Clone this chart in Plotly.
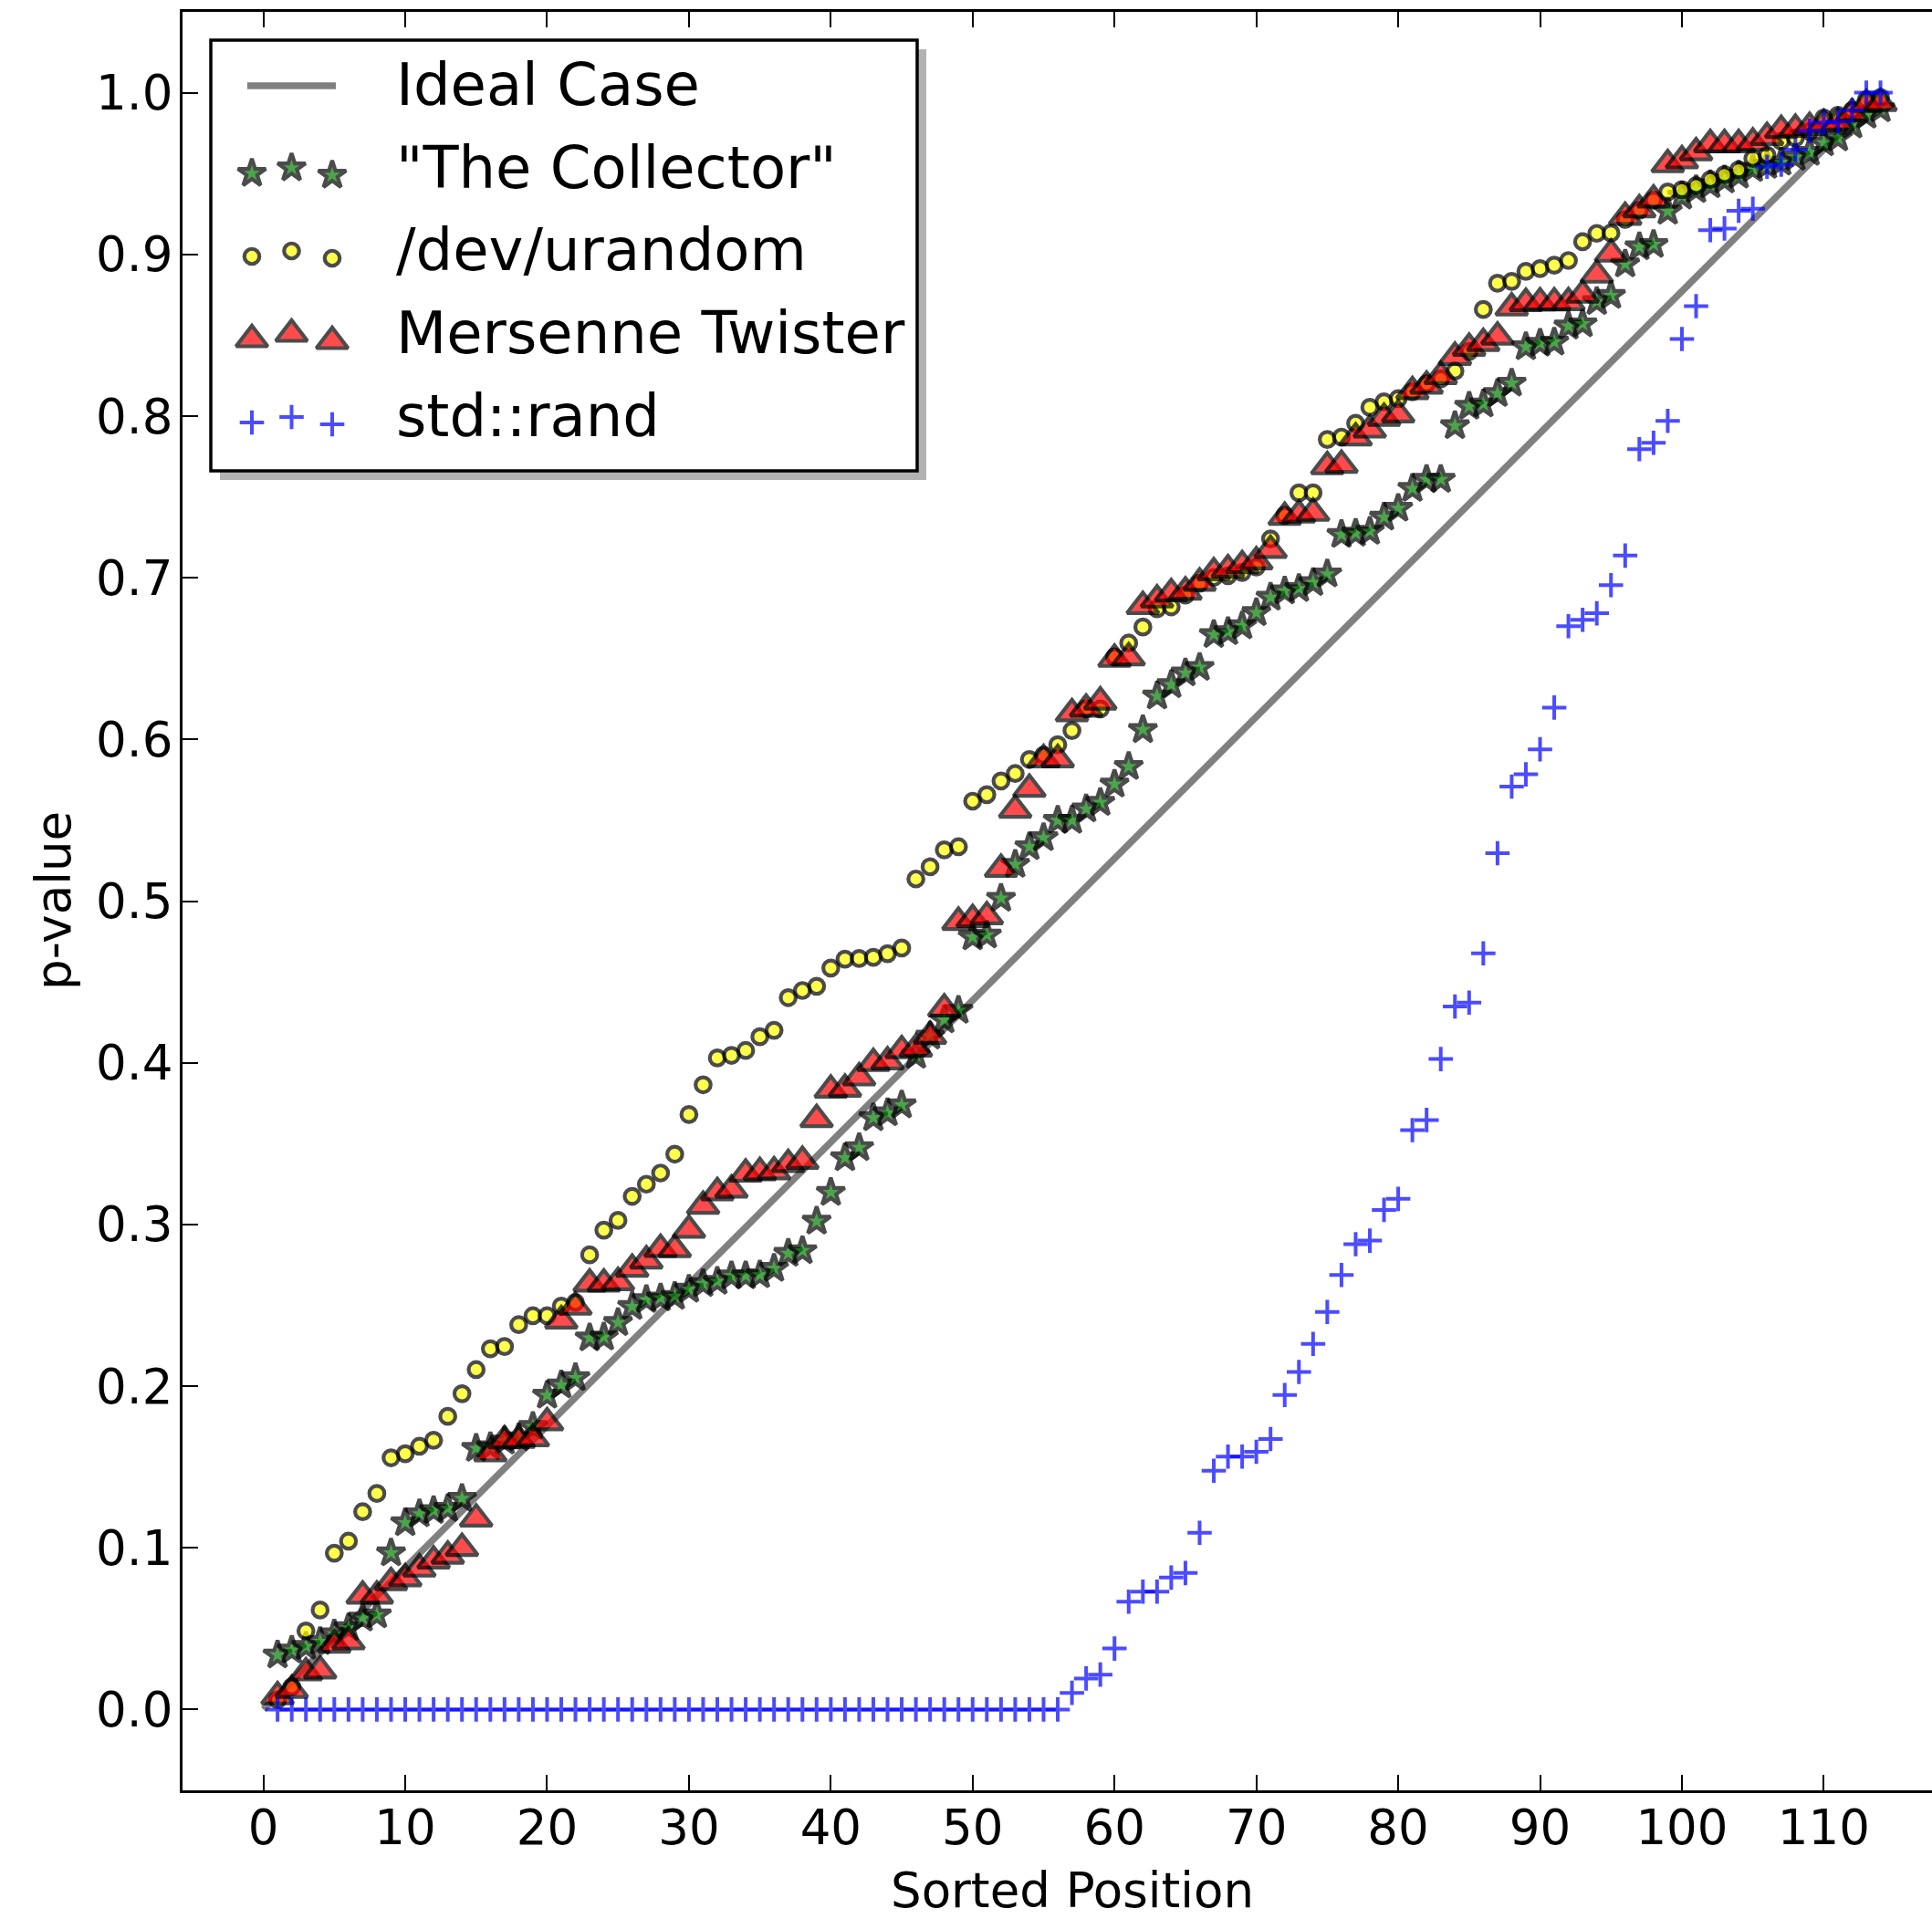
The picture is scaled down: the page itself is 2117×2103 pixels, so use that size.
import plotly.graph_objects as go

# ---------------- data ----------------
POSITIONS = list(range(1, 115))

COLLECTOR = [
    0.0337, 0.0367, 0.039, 0.042, 0.0467, 0.0505, 0.0565, 0.0585, 0.0968, 0.1155,
    0.121, 0.123, 0.1243, 0.1305, 0.1615, 0.1625, 0.166, 0.168, 0.175, 0.1943,
    0.2007, 0.2052, 0.2298, 0.2303, 0.2393, 0.2492, 0.2535, 0.2545, 0.2555, 0.2599,
    0.2634, 0.2648, 0.2682, 0.2682, 0.2688, 0.2728, 0.2821, 0.2837, 0.302, 0.3198,
    0.3412, 0.3475, 0.366, 0.369, 0.3739, 0.4046, 0.4165, 0.4265, 0.4324, 0.4778,
    0.479, 0.5017, 0.5227, 0.5336, 0.5392, 0.5499, 0.5499, 0.557, 0.561, 0.5723,
    0.5832, 0.606, 0.6268, 0.6338, 0.6411, 0.6445, 0.6648, 0.6666, 0.6702, 0.6784,
    0.6879, 0.6918, 0.6933, 0.697, 0.7023, 0.7267, 0.7275, 0.7287, 0.7374, 0.7429,
    0.7552, 0.7608, 0.7608, 0.794, 0.806, 0.8074, 0.8139, 0.8203, 0.8428, 0.845,
    0.8457, 0.8556, 0.857, 0.8708, 0.8746, 0.894, 0.9046, 0.9061, 0.9266, 0.936,
    0.940, 0.943, 0.946, 0.949, 0.953, 0.955, 0.957, 0.960, 0.963, 0.969,
    0.972, 0.980, 0.986, 0.990,
]

URANDOM = [
    0.006, 0.014, 0.0486, 0.0615, 0.0967, 0.1041, 0.1223, 0.1336, 0.1557, 0.1582,
    0.1628, 0.1665, 0.1813, 0.1953, 0.2102, 0.2231, 0.2245, 0.238, 0.2435, 0.2435,
    0.2495, 0.2518, 0.2812, 0.2965, 0.3025, 0.3174, 0.3249, 0.3318, 0.3435, 0.368,
    0.3864, 0.403, 0.4046, 0.4076, 0.4161, 0.4201, 0.4403, 0.4447, 0.4473, 0.4586,
    0.4641, 0.4645, 0.4652, 0.4675, 0.471, 0.5137, 0.5212, 0.5317, 0.5336, 0.5618,
    0.5658, 0.5743, 0.5789, 0.5876, 0.5902, 0.5967, 0.6055, 0.6189, 0.6189, 0.651,
    0.6596, 0.6695, 0.6808, 0.682, 0.6893, 0.6966, 0.7002, 0.7012, 0.7032, 0.7066,
    0.724, 0.7385, 0.7525, 0.7525, 0.7855, 0.787, 0.7955, 0.8054, 0.8088, 0.8108,
    0.815, 0.8199, 0.823, 0.8278, 0.84, 0.8659, 0.8822, 0.8833, 0.8895, 0.8912,
    0.8933, 0.8962, 0.9078, 0.913, 0.9132, 0.9216, 0.9273, 0.9335, 0.9386, 0.940,
    0.9425, 0.9463, 0.9493, 0.9523, 0.9593, 0.9614, 0.970, 0.972, 0.976, 0.9844,
    0.986, 0.989, 0.9956, 0.997,
]

MERSENNE = [
    0.008, 0.012, 0.0228, 0.024, 0.040, 0.042, 0.0703, 0.0703, 0.0786, 0.081,
    0.087, 0.092, 0.095, 0.0998, 0.118, 0.1583, 0.1663, 0.1667, 0.1676, 0.1775,
    0.2405, 0.249, 0.2633, 0.2633, 0.2642, 0.2725, 0.2776, 0.2847, 0.2846, 0.2966,
    0.3114, 0.3198, 0.3214, 0.3313, 0.3322, 0.3327, 0.3372, 0.3392, 0.365, 0.3832,
    0.3838, 0.3908, 0.3997, 0.4007, 0.4076, 0.4086, 0.4165, 0.4334, 0.487, 0.4887,
    0.4905, 0.5198, 0.5564, 0.5693, 0.5876, 0.5876, 0.616, 0.6189, 0.6233, 0.6497,
    0.6506, 0.6824, 0.6864, 0.6903, 0.6913, 0.6968, 0.7032, 0.705, 0.7076, 0.710,
    0.7171, 0.7375, 0.7389, 0.740, 0.7688, 0.7697, 0.7866, 0.7915, 0.7988, 0.8009,
    0.8153, 0.8187, 0.8246, 0.8365, 0.8421, 0.845, 0.849, 0.867, 0.8698, 0.8702,
    0.8702, 0.8703, 0.8749, 0.8873, 0.9003, 0.9231, 0.9277, 0.9338, 0.9556, 0.958,
    0.963, 0.968, 0.968, 0.968, 0.969, 0.9725, 0.9768, 0.9775, 0.9787, 0.9806,
    0.9815, 0.9872, 0.9929, 0.9935,
]

STD_RAND = [
    0.0, 0.0, 0.0, 0.0, 0.0, 0.0, 0.0, 0.0, 0.0, 0.0,
    0.0, 0.0, 0.0, 0.0, 0.0, 0.0, 0.0, 0.0, 0.0, 0.0,
    0.0, 0.0, 0.0, 0.0, 0.0, 0.0, 0.0, 0.0, 0.0, 0.0,
    0.0, 0.0, 0.0, 0.0, 0.0, 0.0, 0.0, 0.0, 0.0, 0.0,
    0.0, 0.0, 0.0, 0.0, 0.0, 0.0, 0.0, 0.0, 0.0, 0.0,
    0.0, 0.0, 0.0, 0.0, 0.0, 0.0, 0.0103, 0.0192, 0.0216, 0.0377,
    0.0667, 0.0729, 0.0729, 0.0816, 0.0844, 0.1093, 0.1477, 0.1564, 0.1564, 0.1594,
    0.1673, 0.1945, 0.2088, 0.2261, 0.2459, 0.2687, 0.2878, 0.290, 0.309, 0.3158,
    0.3583, 0.3646, 0.4023, 0.4348, 0.4372, 0.4677, 0.5296, 0.5708, 0.5784, 0.5939,
    0.6197, 0.670, 0.674, 0.678, 0.6954, 0.7137, 0.7795, 0.7835, 0.797, 0.8477,
    0.868, 0.915, 0.916, 0.927, 0.9282, 0.9542, 0.9555, 0.9648, 0.9764, 0.9815,
    0.9822, 0.989, 1.0, 1.0,
]

IDEAL_X = [0, 114]
IDEAL_Y = [0.0, 1.0]

SERIES_NAMES = ["Ideal Case", "\"The Collector\"", "/dev/urandom", "Mersenne Twister", "std::rand"]
X_TICKS = [0, 10, 20, 30, 40, 50, 60, 70, 80, 90, 100, 110]
Y_TICKS = [0.0, 0.1, 0.2, 0.3, 0.4, 0.5, 0.6, 0.7, 0.8, 0.9, 1.0]

# ---------------- layout geometry (pixels) ----------------
W, H = 2117, 2103
PL, PR, PT, PB = 200, 2117, 13, 1962   # plot area edges in px
FONT = "DejaVu Sans"
TICK_FS = 53
LEG_FS = 64


def pxx(X):
    return (X - PL) / (PR - PL)


def pxy(Y):
    return (PB - Y) / (PB - PT)


EDGE = dict(color="black", width=4.2)
STYLES = {
    "\"The Collector\"": dict(symbol="star", size=23, color="green", line=EDGE),
    "/dev/urandom": dict(symbol="circle", size=16.5, color="yellow", line=EDGE),
    "Mersenne Twister": dict(symbol="triangle-up", size=30, color="red", line=EDGE),
    "std::rand": dict(symbol="cross-thin", size=19, color="blue",
                      line=dict(color="blue", width=4)),
}

fig = go.Figure()

fig.add_trace(go.Scatter(x=IDEAL_X, y=IDEAL_Y, mode="lines",
                         line=dict(color="#808080", width=7.5),
                         showlegend=False, hoverinfo="skip"))

for name, ys in [("\"The Collector\"", COLLECTOR), ("/dev/urandom", URANDOM),
                 ("Mersenne Twister", MERSENNE), ("std::rand", STD_RAND)]:
    fig.add_trace(go.Scatter(x=POSITIONS, y=ys, mode="markers", name=name,
                             marker=dict(opacity=0.7, **STYLES[name]),
                             showlegend=False, cliponaxis=False))

# ---------------- custom legend (matplotlib-like, 3 scatter points) ----------------
LEG_BOX = (231, 44, 1005, 516)
SHADOW_OFF = 10
KEY_X = [276, 319.5, 364]
KEY_DY = [0, -6, 2]
ROW_Y = [94, 190, 281, 372, 463]
TEXT_X = 432
TEXT_Y = [93, 183.5, 273.5, 365, 455.5]

fig.add_shape(type="rect", xref="paper", yref="paper", layer="below",
              x0=pxx(LEG_BOX[0] + SHADOW_OFF), x1=pxx(LEG_BOX[2] + SHADOW_OFF),
              y0=pxy(LEG_BOX[1] + SHADOW_OFF), y1=pxy(LEG_BOX[3] + SHADOW_OFF),
              fillcolor="#b2b2b2", line=dict(width=0))
fig.add_shape(type="rect", xref="paper", yref="paper", layer="below",
              x0=pxx(LEG_BOX[0]), x1=pxx(LEG_BOX[2]),
              y0=pxy(LEG_BOX[1]), y1=pxy(LEG_BOX[3]),
              fillcolor="white", line=dict(color="black", width=3.5))

fig.add_trace(go.Scatter(x=[271, 368], y=[ROW_Y[0], ROW_Y[0]], mode="lines",
                         xaxis="x2", yaxis="y2",
                         line=dict(color="#808080", width=7.5),
                         showlegend=False, hoverinfo="skip"))
for i, name in enumerate(SERIES_NAMES[1:], start=1):
    fig.add_trace(go.Scatter(x=KEY_X, y=[ROW_Y[i] + d for d in KEY_DY], mode="markers",
                             xaxis="x2", yaxis="y2",
                             marker=dict(opacity=0.7, **STYLES[name]),
                             showlegend=False, hoverinfo="skip"))

for i, name in enumerate(SERIES_NAMES):
    fig.add_annotation(x=pxx(TEXT_X), y=pxy(TEXT_Y[i]), xref="paper", yref="paper",
                       text=name, showarrow=False, xanchor="left", yanchor="middle",
                       font=dict(family=FONT, size=LEG_FS, color="black"))

# axis titles
fig.add_annotation(x=pxx(1175), y=pxy(2071), xref="paper", yref="paper",
                   text="Sorted Position", showarrow=False,
                   xanchor="center", yanchor="middle",
                   font=dict(family=FONT, size=TICK_FS, color="black"))
fig.add_annotation(x=pxx(58), y=pxy(987), xref="paper", yref="paper",
                   text="p-value", showarrow=False, textangle=-90,
                   xanchor="center", yanchor="middle",
                   font=dict(family=FONT, size=TICK_FS, color="black"))

axis_common = dict(showgrid=False, zeroline=False, showline=True, linecolor="black",
                   linewidth=3, ticks="inside", ticklen=17, tickwidth=2,
                   tickcolor="black", automargin=False,
                   tickfont=dict(family=FONT, size=TICK_FS, color="black"))

fig.update_layout(
    width=W, height=H,
    margin=dict(l=PL, r=W - PR, t=PT, b=H - PB, pad=0),
    paper_bgcolor="white", plot_bgcolor="white",
    showlegend=False,
    xaxis=dict(range=[-5.7, 117.63], tickvals=X_TICKS,
               ticktext=[str(v) for v in X_TICKS], mirror="ticks",
               ticklabelstandoff=-8,
               domain=[0, 1], **axis_common),
    yaxis=dict(range=[-0.05, 1.05], tickvals=Y_TICKS,
               ticktext=[f"{v:.1f}" for v in Y_TICKS], mirror=False,
               ticklabelstandoff=-3,
               domain=[0, 1], **axis_common),
    xaxis2=dict(overlaying="x", anchor="y2", range=[PL, PR], visible=False,
                domain=[0, 1], fixedrange=True),
    yaxis2=dict(overlaying="y", anchor="x2", range=[PB, PT], visible=False,
                domain=[0, 1], fixedrange=True),
)

fig.write_html(
    "out.html",
    config={"displayModeBar": False},
    post_script="document.body.style.margin='0';document.body.style.padding='0';"
                "document.documentElement.style.overflow='hidden';",
)
